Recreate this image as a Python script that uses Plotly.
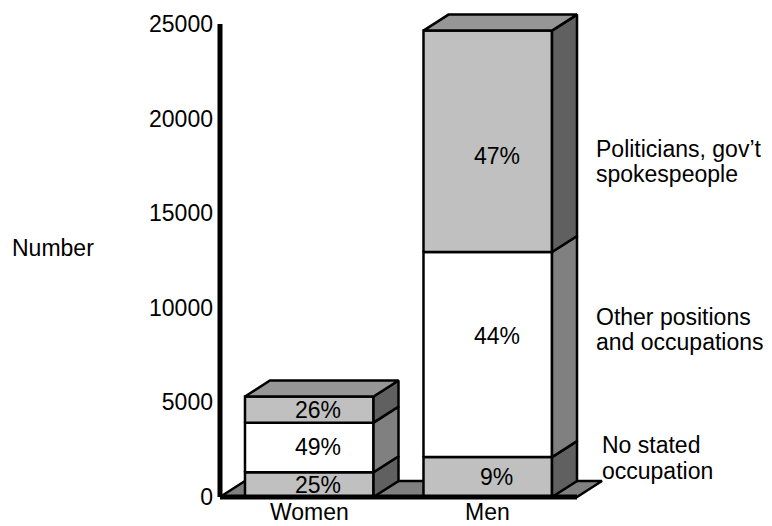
import plotly.graph_objects as go

# ---- data -------------------------------------------------------------
categories = ["Women", "Men"]
women_counts = [1310, 2620, 1380]    # no stated occupation, other, politicians
men_counts = [2110, 10840, 11700]
segment_lines = [
    ["No stated", "occupation"],
    ["Other positions", "and occupations"],
    ["Politicians, gov\u2019t", "spokespeople"],
]
y_tick_values = [0, 5000, 10000, 15000, 20000, 25000]
y_tick_labels = ["0", "5000", "10000", "15000", "20000", "25000"]
y_title = "Number"

# ---- geometry / style -------------------------------------------------
W, H = 772, 526
ML, MR, MT, MB = 214, 157, 5, 16
PX_PER_CAT = 178.5            # pixels per category step
PX_PER_COUNT = 0.01892        # pixels per count
plot_w = W - ML - MR
plot_h = H - MT - MB
x0_range = -0.5 - 6 / PX_PER_CAT
x_range = [x0_range, x0_range + plot_w / PX_PER_CAT]
y0_range = -(plot_h - 492) / PX_PER_COUNT
y_range = [y0_range, y0_range + plot_h / PX_PER_COUNT]

DEPTH_X = 25 / PX_PER_CAT
DEPTH_Y = 16 / PX_PER_COUNT
BAR_W = 0.72
FONT = "Liberation Sans, Arial, sans-serif"
FS = 23
EDGE = dict(color="black", width=2.5)
front_colors = ["#c0c0c0", "#ffffff", "#c0c0c0"]
side_colors = ["#606060", "#808080", "#606060"]
TOP_COLOR = "#969696"
FLOOR_COLOR = "#808080"
LABEL_DX = 9 / PX_PER_CAT
label_yshift = {(1, 1): 19, (1, 2): -15}

fig = go.Figure()


def poly(xs, ys, fill, line=EDGE):
    fig.add_trace(go.Scatter(
        x=xs + xs[:1], y=ys + ys[:1], mode="lines", fill="toself",
        fillcolor=fill, line=line, hoverinfo="skip", showlegend=False))


n = len(categories)
# floor
poly([-0.5, n - 0.5, n - 0.5 + DEPTH_X, -0.5 + DEPTH_X],
     [0, 0, DEPTH_Y, DEPTH_Y], FLOOR_COLOR)

annotations = []
for i, counts in enumerate([women_counts, men_counts]):
    total = sum(counts)
    xl, xr = i - BAR_W / 2, i + BAR_W / 2
    cum = 0
    for j, v in enumerate(counts):
        y0, y1 = cum, cum + v
        poly([xl, xr, xr, xl], [y0, y0, y1, y1], front_colors[j])
        poly([xr, xr + DEPTH_X, xr + DEPTH_X, xr],
             [y0, y0 + DEPTH_Y, y1 + DEPTH_Y, y1], side_colors[j])
        annotations.append(dict(
            x=i + LABEL_DX, y=(y0 + y1) / 2, xref="x", yref="y",
            text=f"{round(100 * v / total)}%", showarrow=False,
            yshift=label_yshift.get((i, j), 0),
            font=dict(family=FONT, size=FS, color="black")))
        cum = y1
    poly([xl, xr, xr + DEPTH_X, xl + DEPTH_X],
         [cum, cum, cum + DEPTH_Y, cum + DEPTH_Y], TOP_COLOR)
    annotations.append(dict(
        x=i, y=0, xref="x", yref="y", text=categories[i], showarrow=False,
        yanchor="top", yshift=0,
        font=dict(family=FONT, size=FS, color="black")))

# axis lines
fig.add_trace(go.Scatter(x=[-0.5, -0.5], y=[0, y_tick_values[-1]], mode="lines",
                         line=dict(color="black", width=5),
                         hoverinfo="skip", showlegend=False))
fig.add_trace(go.Scatter(x=[-0.5, n - 0.5], y=[0, 0], mode="lines",
                         line=dict(color="black", width=5),
                         hoverinfo="skip", showlegend=False))


def paper_x(px):
    return (px - ML) / plot_w


def paper_y(py):
    return (H - MB - py) / plot_h


# series labels to the right of the chart
label_pos = [(600, 445, 471), (594, 316.5, 342.5), (594, 148.5, 174.5)]
for (px, ya, yb), lines in zip(label_pos, segment_lines):
    for py, txt in zip((ya, yb), lines):
        annotations.append(dict(
            x=paper_x(px), y=paper_y(py), xref="paper", yref="paper",
            text=txt, showarrow=False, xanchor="left", yanchor="middle",
            font=dict(family=FONT, size=FS, color="black")))

annotations.append(dict(
    x=paper_x(53), y=paper_y(248), xref="paper", yref="paper", text=y_title,
    showarrow=False, xanchor="center", yanchor="middle",
    font=dict(family=FONT, size=FS, color="black")))

fig.update_layout(
    width=W, height=H, margin=dict(l=ML, r=MR, t=MT, b=MB),
    paper_bgcolor="white", plot_bgcolor="white",
    showlegend=False, annotations=annotations,
    font=dict(family=FONT, size=FS, color="black"),
    xaxis=dict(range=x_range, visible=False, fixedrange=True),
    yaxis=dict(range=y_range, tickvals=y_tick_values, ticktext=y_tick_labels,
               showgrid=False, zeroline=False, showline=False, ticks="",
               tickfont=dict(family=FONT, size=FS, color="black"),
               fixedrange=True),
)

fig.write_html("out.html")
